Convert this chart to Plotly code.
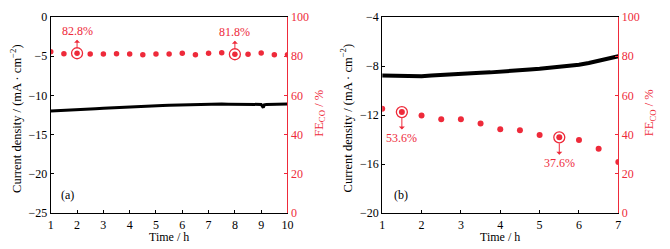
import plotly.graph_objects as go

# ---- data ----
# Panel (a)
time_a = [1, 1.25, 1.5, 1.75, 2, 2.25, 2.5, 2.6, 2.7, 3, 3.25, 3.5, 3.75, 4, 4.25, 4.5, 4.75,
          5, 5.25, 5.5, 5.75, 6, 6.25, 6.5, 6.75, 7, 7.25, 7.5, 7.75, 8, 8.25, 8.5, 8.75,
          9, 9.08, 9.12, 9.2, 9.5, 9.75, 10]
current_a = [-12.0, -11.97, -11.93, -11.9, -11.87, -11.83, -11.8, -11.79, -11.7, -11.65, -11.6,
             -11.55, -11.5, -11.45, -11.42, -11.38, -11.33, -11.3, -11.28, -11.25, -11.22,
             -11.2, -11.17, -11.15, -11.12, -11.1, -11.1, -11.1, -11.12, -11.12, -11.13,
             -11.12, -11.13, -11.15, -11.55, -11.2, -11.15, -11.12, -11.1, -11.1]
fe_time_a = [1, 1.5, 2, 2.5, 3, 3.5, 4, 4.5, 5, 5.5, 6, 6.5, 7, 7.5, 8, 8.5, 9, 9.5, 10]
fe_a = [82.3, 81.3, 81.5, 81.1, 81.1, 81.3, 81.1, 80.8, 81.1, 81.1, 81.5, 80.8, 81.5, 81.8,
        81.0, 81.0, 81.6, 80.8, 80.8]
hl_time_a = [2, 8]
hl_fe_a = [81.5, 81.0]
hl_text_a = ["82.8%", "81.8%"]

# Panel (b)
time_b = [1, 1.25, 1.5, 1.75, 2, 2.25, 2.5, 2.75, 3, 3.25, 3.5, 3.75, 4, 4.25, 4.5, 4.75,
          5, 5.25, 5.5, 5.75, 6, 6.25, 6.5, 6.75, 7]
current_b = [-8.78, -8.8, -8.8, -8.82, -8.83, -8.78, -8.72, -8.68, -8.63, -8.6, -8.56, -8.52,
             -8.48, -8.42, -8.35, -8.28, -8.22, -8.15, -8.08, -8.0, -7.9, -7.75, -7.58,
             -7.4, -7.2]
fe_time_b = [1, 1.5, 2, 2.5, 3, 3.5, 4, 4.5, 5, 5.5, 6, 6.5, 7]
fe_b = [53.2, 51.5, 49.8, 47.8, 47.8, 45.6, 42.7, 42.2, 39.8, 38.6, 37.2, 32.8, 26.0]
hl_time_b = [1.5, 5.5]
hl_fe_b = [51.5, 38.6]
hl_text_b = ["53.6%", "37.6%"]

xticks_a = [1, 2, 3, 4, 5, 6, 7, 8, 9, 10]
yticks_a = [0, -5, -10, -15, -20, -25]
xticks_b = [1, 2, 3, 4, 5, 6, 7]
yticks_b = [-4, -8, -12, -16, -20]
fe_ticks = [0, 20, 40, 60, 80, 100]

# ---- style ----
RED = "#ee2a3a"
FONT = "Liberation Serif"
OFF = 8  # page body margin offset
W, H = 670 - OFF, 249 - OFF
MT = 17 - OFF
MB = 36
PH = H - MT - MB

fig = go.Figure()

fig.add_trace(go.Scatter(x=time_a, y=current_a, mode="lines", line=dict(color="black", width=3),
                         xaxis="x", yaxis="y", showlegend=False))
fig.add_trace(go.Scatter(x=fe_time_a, y=fe_a, mode="markers",
                         marker=dict(color=RED, size=5.5), xaxis="x", yaxis="y2", showlegend=False))
fig.add_trace(go.Scatter(x=hl_time_a, y=hl_fe_a, mode="markers",
                         marker=dict(color="rgba(0,0,0,0)", size=11, line=dict(color=RED, width=1.3)),
                         xaxis="x", yaxis="y2", showlegend=False))

fig.add_trace(go.Scatter(x=time_b, y=current_b, mode="lines", line=dict(color="black", width=4),
                         xaxis="x2", yaxis="y3", showlegend=False))
fig.add_trace(go.Scatter(x=fe_time_b, y=fe_b, mode="markers",
                         marker=dict(color=RED, size=6), xaxis="x2", yaxis="y4", showlegend=False))
fig.add_trace(go.Scatter(x=hl_time_b, y=hl_fe_b, mode="markers",
                         marker=dict(color="rgba(0,0,0,0)", size=11, line=dict(color=RED, width=1.3)),
                         xaxis="x2", yaxis="y4", showlegend=False))

tickfont = dict(family=FONT, size=12, color="black")
redfont = dict(family=FONT, size=12, color=RED)

common_x = dict(showgrid=False, zeroline=False, showline=True, linecolor="black", linewidth=1.2,
                mirror=True, ticks="inside", ticklen=3, tickcolor="black", tickfont=tickfont)
common_yl = dict(showgrid=False, zeroline=False, showline=True, linecolor="black", linewidth=1.2,
                 ticks="inside", ticklen=3, tickcolor="black", tickfont=tickfont)
common_yr = dict(showgrid=False, zeroline=False, showline=True, linecolor=RED, linewidth=1.2,
                 ticks="inside", ticklen=3, tickcolor=RED, tickfont=redfont, side="right",
                 range=[0, 100], tickvals=fe_ticks)

dom_a = [(48.3 - OFF) / W, (288.3 - OFF) / W]
dom_b = [(384.3 - OFF) / W, (623.7 - OFF) / W]

fig.update_layout(
    width=W, height=H,
    margin=dict(l=0, r=0, t=MT, b=MB),
    font=dict(family=FONT, size=12),
    plot_bgcolor="white", paper_bgcolor="white",
    xaxis=dict(domain=dom_a, range=[1, 10], tickvals=xticks_a, anchor="y", **common_x),
    yaxis=dict(range=[-25, 0], tickvals=yticks_a, anchor="x", **common_yl),
    yaxis2=dict(overlaying="y", anchor="x", **common_yr),
    xaxis2=dict(domain=dom_b, range=[1, 7], tickvals=xticks_b, anchor="y3", **common_x),
    yaxis3=dict(range=[-20, -4], tickvals=yticks_b, anchor="x2", **common_yl),
    yaxis4=dict(overlaying="y3", anchor="x2", **common_yr),
)

def px_x(px):
    return (px - OFF) / W

def px_y(py):
    return (MT + PH - (py - OFF)) / PH

ann = []
def txt(text, px, py, color="black", angle=0, size=12):
    ann.append(dict(text=text, x=px_x(px), y=px_y(py), xref="paper", yref="paper",
                    xanchor="center", yanchor="middle", textangle=angle, showarrow=False,
                    font=dict(family=FONT, size=size, color=color)))

# axis titles
txt("Time / h", 168.3, 237)
txt("Time / h", 504, 237)
for lx in [13, 348]:
    txt("Current density / (mA · cm<sup>−2</sup>)", lx, 118, angle=-90, size=12.5)
for rx in [321, 656]:
    txt("FE<sub>CO</sub> / %", rx, 113, color=RED, angle=-90, size=12.5)
# panel labels
txt("(a)", 65, 195)
txt("(b)", 403, 195)

# highlighted value labels
for xv, yv, t in zip(hl_time_a, hl_fe_a, hl_text_a):
    ann.append(dict(text=t, x=xv, y=yv, xref="x", yref="y2", ax=0, ay=-22,
                    showarrow=True, arrowside="start", arrowhead=2, arrowsize=0.8, arrowwidth=1,
                    arrowcolor=RED, standoff=6, font=dict(family=FONT, size=12, color=RED)))
for xv, yv, t in zip(hl_time_b, hl_fe_b, hl_text_b):
    ann.append(dict(text=t, x=xv, y=yv, xref="x2", yref="y4", ax=0, ay=26,
                    showarrow=True, arrowside="start", arrowhead=2, arrowsize=0.8, arrowwidth=1,
                    arrowcolor=RED, standoff=6, font=dict(family=FONT, size=12, color=RED)))
fig.update_layout(annotations=ann)

fig.write_html("out.html")
